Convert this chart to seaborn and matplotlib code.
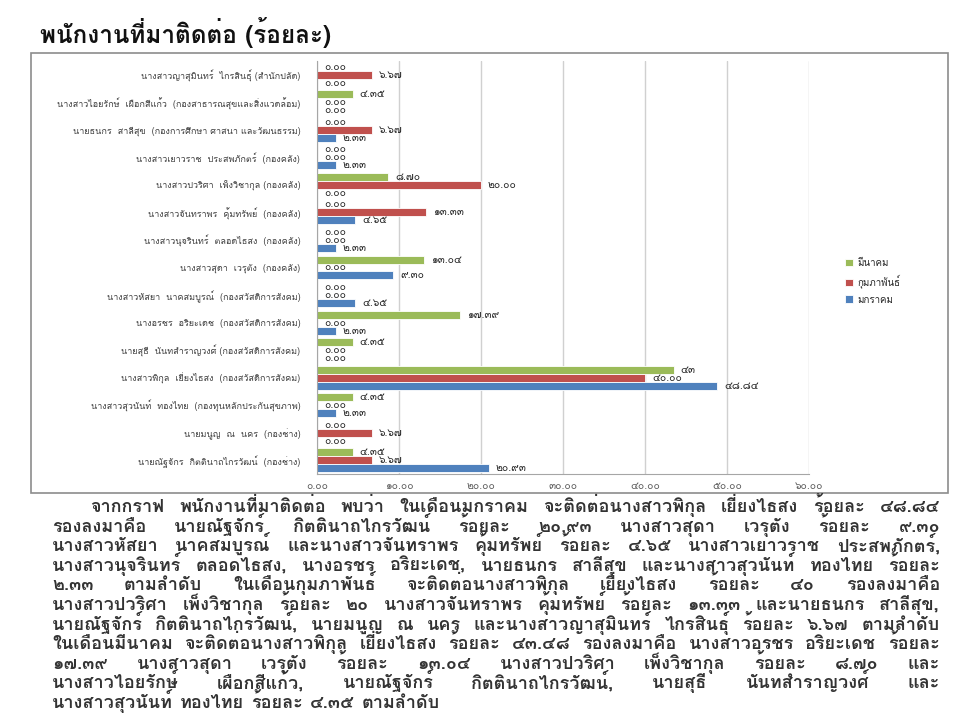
import matplotlib
matplotlib.use('Agg')
import matplotlib.pyplot as plt
import seaborn as sns
import pandas as pd
from matplotlib.patches import Rectangle
from matplotlib.ticker import FixedLocator

# ข้อมูลจากกราฟ (บนลงล่าง)
names = [
    'นางสาวญาสุมินทร์  ไกรสินธุ์ (สำนักปลัด)',
    'นางสาวไอยรักษ์  เผือกสีแก้ว  (กองสาธารณสุขและสิ่งแวดล้อม)',
    'นายธนกร  สาลีสุข  (กองการศึกษา ศาสนา และวัฒนธรรม)',
    'นางสาวเยาวราช  ประสพภักตร์  (กองคลัง)',
    'นางสาวปวริศา  เพ็งวิชากุล (กองคลัง)',
    'นางสาวจันทราพร  คุ้มทรัพย์  (กองคลัง)',
    'นางสาวนุจรินทร์  ตลอดไธสง  (กองคลัง)',
    'นางสาวสุดา  เวรุตัง  (กองคลัง)',
    'นางสาวหัสยา  นาคสมบูรณ์  (กองสวัสดิการสังคม)',
    'นางอรชร  อริยะเดช  (กองสวัสดิการสังคม)',
    'นายสุธี  นันทสำราญวงศ์ (กองสวัสดิการสังคม)',
    'นางสาวพิกุล  เยี่ยงไธสง  (กองสวัสดิการสังคม)',
    'นางสาวสุวนันท์  ทองไทย  (กองทุนหลักประกันสุขภาพ)',
    'นายมนูญ  ณ  นคร  (กองช่าง)',
    'นายณัฐจักร  กิตตินาถไกรวัฒน์  (กองช่าง)',
]
months = ['มีนาคม', 'กุมภาพันธ์', 'มกราคม']
mar = [0, 4.35, 0, 0, 8.70, 0, 0, 13.04, 0, 17.39, 4.35, 43.48, 4.35, 0, 4.35]
feb = [6.67, 0, 6.67, 0, 20.00, 13.33, 0, 0, 0, 0, 0, 40.00, 0, 6.67, 6.67]
jan = [0, 0, 2.33, 2.33, 0, 4.65, 2.33, 9.30, 4.65, 2.33, 0, 48.84, 2.33, 0, 20.93]
colors = ['#9BBB59', '#C0504D', '#4F81BD']
xticks = [0, 10, 20, 30, 40, 50, 60]
label_override = {43.48: '๔๓'}

title = 'พนักงานที่มาติดต่อ (ร้อยละ)'
para = [
    'จากกราฟ พนักงานที่มาติดต่อ พบว่า ในเดือนมกราคม จะติดต่อนางสาวพิกุล  เยี่ยงไธสง  ร้อยละ ๔๘.๘๔',
    'รองลงมาคือ นายณัฐจักร์ กิตตินาถไกรวัฒน์ ร้อยละ ๒๐.๙๓ นางสาวสุดา เวรุตัง ร้อยละ ๙.๓๐',
    'นางสาวหัสยา นาคสมบูรณ์ และนางสาวจันทราพร คุ้มทรัพย์ ร้อยละ ๔.๖๕ นางสาวเยาวราช ประสพภักตร์,',
    'นางสาวนุจรินทร์ ตลอดไธสง,  นางอรชร อริยะเดช, นายธนกร สาลีสุข และนางสาวสุวนันท์ ทองไทย ร้อยละ',
    '๒.๓๓ ตามลำดับ ในเดือนกุมภาพันธ์ จะติดต่อนางสาวพิกุล เยี่ยงไธสง ร้อยละ ๔๐ รองลงมาคือ',
    'นางสาวปวริศา เพ็งวิชากุล ร้อยละ ๒๐ นางสาวจันทราพร คุ้มทรัพย์ ร้อยละ ๑๓.๓๓ และนายธนกร สาลีสุข,',
    'นายณัฐจักร์ กิตตินาถไกรวัฒน์,  นายมนูญ ณ นคร และนางสาวญาสุมินทร์ ไกรสินธุ์ ร้อยละ ๖.๖๗ ตามลำดับ',
    'ในเดือนมีนาคม จะติดต่อนางสาวพิกุล เยี่ยงไธสง ร้อยละ ๔๓.๔๘ รองลงมาคือ นางสาวอรชร อริยะเดช ร้อยละ',
    '๑๗.๓๙ นางสาวสุดา เวรุตัง ร้อยละ ๑๓.๐๔ นางสาวปวริศา เพ็งวิชากุล ร้อยละ ๘.๗๐ และ',
    'นางสาวไอยรักษ์ เผือกสีแก้ว,  นายณัฐจักร์ กิตตินาถไกรวัฒน์,  นายสุธี นันทสำราญวงศ์ และ',
    'นางสาวสุวนันท์ ทองไทย ร้อยละ ๔.๓๕ ตามลำดับ',
]

thai_digits = str.maketrans('0123456789', '๐๑๒๓๔๕๖๗๘๙')

def th(v):
    return f'{v:.2f}'.translate(thai_digits)

sns.set_style('white')
plt.rcParams['font.family'] = ['Loma', 'DejaVu Sans']

df = pd.DataFrame({
    'name': names * 3,
    'month': [months[0]] * 15 + [months[1]] * 15 + [months[2]] * 15,
    'value': mar + feb + jan,
})

fig = plt.figure(figsize=(9.6, 7.2), dpi=100)
ax = fig.add_axes([317 / 960, 1 - 474 / 720, (809 - 317) / 960, (474 - 61) / 720])

sns.barplot(data=df, y='name', x='value', hue='month', hue_order=months,
            palette=colors, orient='h', width=0.87, ax=ax, saturation=1,
            edgecolor='white', linewidth=0.6, legend=True)

# ป้ายค่า
for cont, vals in zip(ax.containers, [mar, feb, jan]):
    labels = [label_override.get(v, th(v)) for v in vals]
    ax.bar_label(cont, labels=labels, padding=5, fontsize=7.5, color='#222222')

ax.set_xlim(0, 60)
ax.set_xticks(xticks)
ax.set_xticklabels([th(t) for t in xticks], fontsize=7.5, color='#595959')
ax.set_xlabel('')
ax.set_ylabel('')
ax.tick_params(axis='y', length=0, labelsize=6.5, labelcolor='#404040', pad=12)
ax.tick_params(axis='x', length=3, color='#a6a6a6', direction='out', pad=2)
ax.yaxis.set_minor_locator(FixedLocator([i - 0.5 for i in range(16)]))
ax.tick_params(axis='y', which='minor', length=4, color='#a6a6a6', direction='out')
ax.grid(axis='x', color='#d0d0d0', linewidth=1)
ax.set_axisbelow(True)
for s in ['top', 'right']:
    ax.spines[s].set_visible(False)
for s in ['left', 'bottom']:
    ax.spines[s].set_color('#a6a6a6')

ax.legend(loc='upper left', bbox_to_anchor=(836 / 960, 1 - 250 / 720),
          bbox_transform=fig.transFigure, frameon=False, fontsize=7,
          handlelength=0.8, handleheight=0.8, handletextpad=0.5, labelspacing=0.7)

# กรอบแผนภูมิ
fig.patches.append(Rectangle((31 / 960, 1 - 493 / 720), (948 - 31) / 960, (493 - 53) / 720,
                             transform=fig.transFigure, fill=False,
                             edgecolor='#8c8c8c', linewidth=1.2))

fig.text(40 / 960, 1 - 33 / 720, title, fontsize=17.5, fontweight='bold',
         va='center', ha='left', color='#111111')

# ข้อความอธิบาย จัดชิดขอบทั้งสองด้าน
renderer = fig.canvas.get_renderer()
W = fig.bbox.width
x_left, x_right = 52, 940
for i, line in enumerate(para):
    y = 1 - (512 + i * 19.6) / 720
    start = 90 if i == 0 else x_left
    words = line.split()
    texts = [fig.text(0, y, w, fontsize=13, fontweight='bold', color='#333333',
                      va='baseline', ha='left') for w in words]
    widths = [t.get_window_extent(renderer).width for t in texts]
    if i < len(para) - 1 and len(words) > 1:
        gap = (x_right - start - sum(widths)) / (len(words) - 1)
    else:
        gap = 7
    x = start
    for t, w in zip(texts, widths):
        t.set_x(x / W)
        x += w + gap

fig.savefig('out.png', dpi=100)
